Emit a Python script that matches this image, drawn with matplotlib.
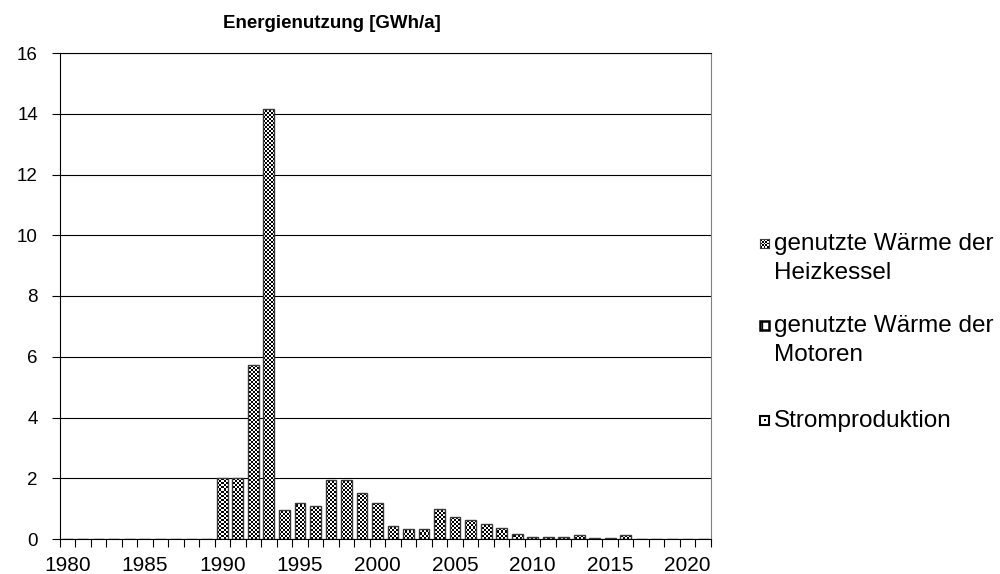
import numpy as np
import matplotlib
matplotlib.use("Agg")
import matplotlib.pyplot as plt
from matplotlib.patches import Rectangle

plt.rcParams['font.family'] = ['Liberation Sans', 'DejaVu Sans']

years = list(range(1980, 2022))
heizkessel = [0, 0, 0, 0, 0, 0, 0, 0, 0, 0,
              2.02, 2.02, 5.72, 14.17, 0.97, 1.20, 1.07, 1.93, 1.93, 1.50,
              1.17, 0.44, 0.34, 0.33, 0.99, 0.72, 0.63, 0.49, 0.37, 0.17,
              0.07, 0.07, 0.07, 0.13, 0.04, 0.03, 0.13, 0, 0, 0,
              0, 0]
motoren = [0] * len(years)
strom = [0] * len(years)
series_names = ["genutzte Wärme der\nHeizkessel", "genutzte Wärme der\nMotoren", "Stromproduktion"]
title = "Energienutzung [GWh/a]"
yticks = [0, 2, 4, 6, 8, 10, 12, 14, 16]
xlabel_years = [1980, 1985, 1990, 1995, 2000, 2005, 2010, 2015, 2020]

W, H = 1000, 574
fig = plt.figure(figsize=(W / 100, H / 100), dpi=100)
ax_l, ax_r, ax_t, ax_b = 59.5, 711, 53, 539
ax = fig.add_axes([ax_l / W, 1 - ax_b / H, (ax_r - ax_l) / W, (ax_b - ax_t) / H])

x = np.arange(len(years))
xlim = (-0.5, len(years) - 0.5)
ylim = (0, 16)

# checkerboard texture (2 px cells)
nx = int(round((ax_r - ax_l) / 2))
ny = int(round((ax_b - ax_t) / 2))
checker = (np.add.outer(np.arange(ny), np.arange(nx)) % 2).astype(float)

bars = ax.bar(x, heizkessel, width=0.7, facecolor='none', edgecolor='#3a3a3a',
              linewidth=1.0, zorder=3)
for b in bars:
    if b.get_height() <= 0:
        continue
    im = ax.imshow(checker, extent=(xlim[0], xlim[1], ylim[0], ylim[1]),
                   aspect='auto', cmap='gray', interpolation='nearest',
                   origin='lower', zorder=2.5, vmin=0, vmax=1)
    im.set_clip_path(b)
# zero series (present in legend only)
ax.bar(x, motoren, width=0.7, facecolor='white', edgecolor='none', zorder=1)
ax.bar(x, strom, width=0.7, facecolor='white', edgecolor='none', zorder=1)

ax.set_xlim(*xlim)
ax.set_ylim(*ylim)
ax.set_yticks(yticks)
ax.set_yticklabels([str(v) for v in yticks])
ax.yaxis.grid(True, color='black', linewidth=0.8)
ax.set_axisbelow(True)

ax.set_xticks([years.index(y) for y in xlabel_years])
ax.set_xticklabels([str(y) for y in xlabel_years])
ax.set_xticks(np.arange(len(years) + 1) - 0.5, minor=True)
ax.tick_params(axis='x', which='major', length=0, pad=12.5, labelsize=15)
ax.tick_params(axis='x', which='minor', length=6, width=0.8, color='black', direction='out')
ax.tick_params(axis='y', which='major', length=6, width=0.8, pad=9.5, labelsize=13.5, direction='out')

for s in ['left', 'bottom', 'top']:
    ax.spines[s].set_color('black')
    ax.spines[s].set_linewidth(0.8)
ax.spines['right'].set_color('#808080')
ax.spines['right'].set_linewidth(0.8)

fig.text(332 / W, 1 - 28 / H, title, ha='center', va='baseline', fontsize=13.5, fontweight='bold')

# legend
leg_x_text = 774
line_base = [(250, 279), (332, 361), (427,)]
for i, (name, ys) in enumerate(zip(series_names, line_base)):
    lines = name.split("\n")
    for ln, yy in zip(lines, ys):
        fig.text(leg_x_text / W, 1 - yy / H, ln, ha='left', va='baseline', fontsize=17.5)
    cy = ys[0] - 7
    mx0, mx1 = 760, 769
    my0, my1 = cy - 4.5, cy + 4.5
    if i == 0:
        lax = fig.add_axes([mx0 / W, 1 - my1 / H, (mx1 - mx0) / W, (my1 - my0) / H])
        lax.imshow((np.add.outer(np.arange(5), np.arange(5)) % 2).astype(float),
                   cmap='gray', interpolation='nearest', aspect='auto', vmin=0, vmax=1)
        lax.set_xticks([]); lax.set_yticks([])
        for s in lax.spines.values():
            s.set_color('#404040'); s.set_linewidth(0.8)
    elif i == 1:
        fig.patches.append(Rectangle((mx0 / W, 1 - my1 / H), (mx1 - mx0) / W, (my1 - my0) / H,
                                     transform=fig.transFigure, facecolor='white',
                                     edgecolor='black', linewidth=1.8, hatch='||'))
    else:
        fig.patches.append(Rectangle((mx0 / W, 1 - my1 / H), (mx1 - mx0) / W, (my1 - my0) / H,
                                     transform=fig.transFigure, facecolor='white',
                                     edgecolor='black', linewidth=1.5))
        fig.patches.append(Rectangle(((mx0 + 3.5) / W, 1 - (cy + 1) / H), 2 / W, 2 / H,
                                     transform=fig.transFigure, facecolor='black',
                                     edgecolor='none'))

fig.savefig("out.png", dpi=100)
